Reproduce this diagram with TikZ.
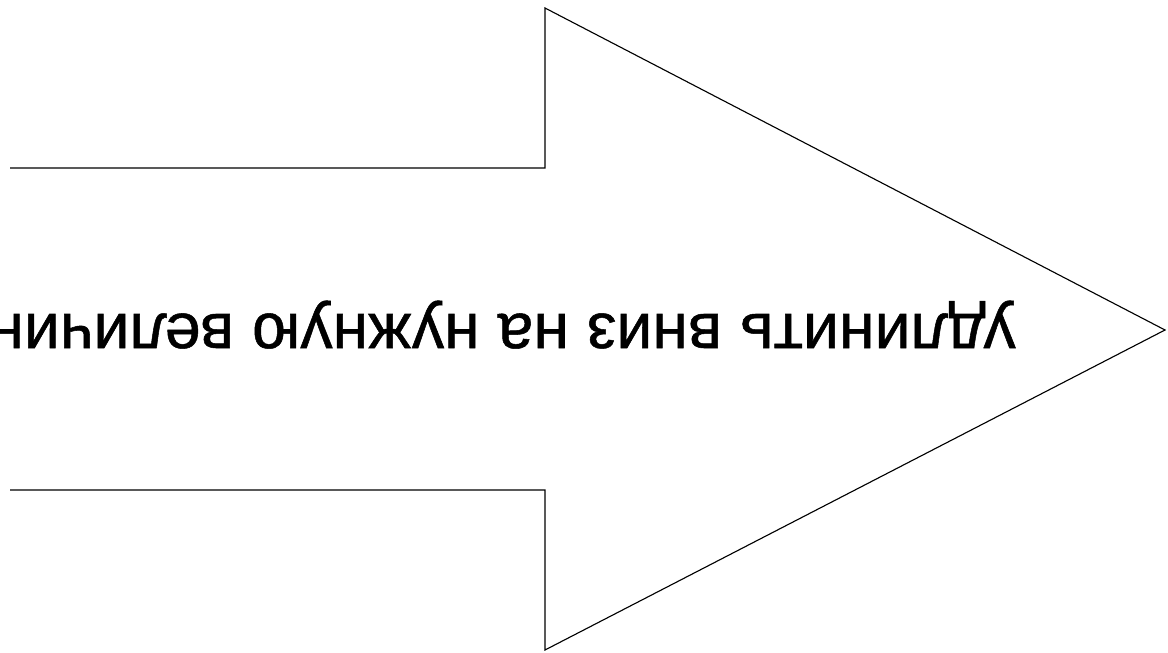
\documentclass[tikz,border=0pt]{standalone}
\usepackage{fontspec}
\setmainfont{Liberation Sans}
\newfontfamily\labelfont[FakeBold=0.8]{Liberation Sans}
\begin{document}
\begin{tikzpicture}[x=0.025cm, y=0.025cm]
    \useasboundingbox (0,0) rectangle (1168,652);
    \clip (0,0) rectangle (1168,652);

    % Arrow outline
    \coordinate (tailTop) at (10,484);
    \coordinate (neckTop) at (545,484);
    \coordinate (headTop) at (545,644);
    \coordinate (tip) at (1165,322);
    \coordinate (headBot) at (545,2);
    \coordinate (neckBot) at (545,162);
    \coordinate (tailBot) at (10,162);
    \draw[line width=0.8pt] (tailTop) -- (neckTop) -- (headTop) -- (tip)
        -- (headBot) -- (neckBot) -- (tailBot);

    % Label (upside down)
    \node[rotate=180, anchor=base west, inner sep=0pt,
          font=\labelfont\fontsize{45.8}{55}\selectfont] (label) at (1016,338)
          {удлинить вниз на нужную величину};
\end{tikzpicture}
\end{document}
